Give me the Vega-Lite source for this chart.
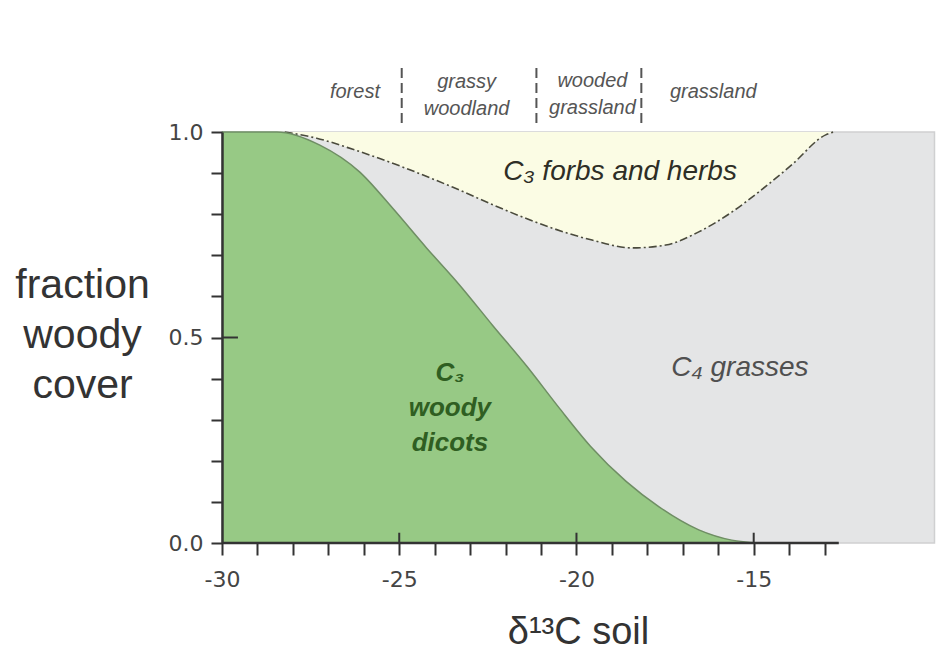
{
  "$schema": "https://vega.github.io/schema/vega-lite/v6.json",
  "width": 721,
  "height": 411,
  "autosize": {"type": "none"},
  "padding": {"left": 222, "top": 132, "right": 0, "bottom": 113},
  "background": "white",
  "config": {"view": {"stroke": null}, "text": {"lineBreak": "\n"}},
  "datasets": {
    "green": [
      {"x": -30, "y": 1}, {"x": -28.45, "y": 1}, {"x": -27.24, "y": 0.968}, {"x": -26.12, "y": 0.903},
      {"x": -25.19, "y": 0.815}, {"x": -24.23, "y": 0.718}, {"x": -23.3, "y": 0.628}, {"x": -22.37, "y": 0.53},
      {"x": -21.4, "y": 0.43}, {"x": -20.5, "y": 0.33}, {"x": -19.6, "y": 0.235}, {"x": -18.6, "y": 0.15},
      {"x": -17.67, "y": 0.088}, {"x": -16.55, "y": 0.032}, {"x": -15.62, "y": 0.007}, {"x": -14.86, "y": 0}
    ],
    "yellow": [
      {"x": -28.23, "y": 1}, {"x": -27.33, "y": 0.985}, {"x": -26.31, "y": 0.958}, {"x": -24.91, "y": 0.915},
      {"x": -23.5, "y": 0.866}, {"x": -22.09, "y": 0.813}, {"x": -20.68, "y": 0.766}, {"x": -19.56, "y": 0.737},
      {"x": -18.43, "y": 0.718}, {"x": -17.48, "y": 0.725}, {"x": -16.55, "y": 0.757}, {"x": -15.62, "y": 0.805},
      {"x": -14.86, "y": 0.854}, {"x": -13.93, "y": 0.92}, {"x": -12.97, "y": 0.993}, {"x": -12.75, "y": 1}
    ]
  },
  "layer": [
    {
      "data": {"values": [{"x": -30, "x2": -9.9, "y": 0, "y2": 1}]},
      "mark": {"type": "rect", "fill": "#e4e5e6", "stroke": "#cfd0d1", "strokeWidth": 1.5},
      "encoding": {
        "x": {
          "field": "x", "type": "quantitative",
          "scale": {"domain": [-30, -9.66], "nice": false, "zero": false},
          "axis": {
            "values": [-30, -29, -28, -27, -26, -25, -24, -23, -22, -21, -20, -19, -18, -17, -16, -15, -14, -13],
            "labelExpr": "datum.value % 5 === 0 ? '' + datum.value : ''",
            "domain": false, "grid": false, "zindex": 1,
            "tickSize": 12, "tickWidth": 2, "tickColor": "#333",
            "labelFont": "DejaVu Sans", "labelFontSize": 22, "labelColor": "#444", "labelPadding": 14,
            "labelFlush": false, "labelOverlap": false,
            "title": "δ¹³C soil", "titleFont": "Liberation Sans", "titleFontSize": 38,
            "titleFontWeight": "normal", "titleColor": "#333",
            "titleX": 356, "titleY": 89, "titleAlign": "center", "titleBaseline": "middle"
          }
        },
        "x2": {"field": "x2"},
        "y": {
          "field": "y", "type": "quantitative",
          "scale": {"domain": [0, 1], "nice": false},
          "axis": {
            "values": [0, 0.1, 0.2, 0.3, 0.4, 0.5, 0.6, 0.7, 0.8, 0.9, 1],
            "labelExpr": "datum.value == 0 ? '0.0' : (datum.value == 0.5 ? '0.5' : (datum.value == 1 ? '1.0' : ''))",
            "domain": true, "domainColor": "#333", "domainWidth": 2.5, "grid": false, "zindex": 1,
            "tickSize": 11, "tickWidth": 2, "tickColor": "#333",
            "labelFont": "DejaVu Sans", "labelFontSize": 22, "labelColor": "#444", "labelPadding": 8,
            "labelFlush": false, "labelOverlap": false,
            "title": ["fraction", "woody", "cover"], "titleFont": "Liberation Sans", "titleFontSize": 41,
            "titleFontWeight": "normal", "titleColor": "#333", "titleAngle": 0, "titleLineHeight": 50,
            "titleX": -140, "titleY": 153, "titleAlign": "center", "titleBaseline": "middle"
          }
        },
        "y2": {"field": "y2"}
      }
    },
    {
      "data": {"name": "yellow"},
      "mark": {"type": "area", "fill": "#fbfce4", "interpolate": "monotone"},
      "encoding": {
        "x": {"field": "x", "type": "quantitative"},
        "y": {"field": "y", "type": "quantitative"},
        "y2": {"datum": 1}
      }
    },
    {
      "data": {"name": "yellow"},
      "mark": {"type": "line", "stroke": "#4a4a3c", "strokeWidth": 1.6, "strokeDash": [8, 3, 2, 3], "interpolate": "monotone"},
      "encoding": {
        "x": {"field": "x", "type": "quantitative"},
        "y": {"field": "y", "type": "quantitative"}
      }
    },
    {
      "data": {"name": "green"},
      "mark": {"type": "area", "fill": "#97c985", "interpolate": "monotone"},
      "encoding": {
        "x": {"field": "x", "type": "quantitative"},
        "y": {"field": "y", "type": "quantitative"},
        "y2": {"datum": 0}
      }
    },
    {
      "data": {"name": "green"},
      "mark": {"type": "line", "stroke": "#6f8e64", "strokeWidth": 1.5, "interpolate": "monotone"},
      "encoding": {
        "x": {"field": "x", "type": "quantitative"},
        "y": {"field": "y", "type": "quantitative"}
      }
    },
    {
      "data": {"values": [{"x": -30, "x2": -12.6, "y": 0}]},
      "mark": {"type": "rule", "stroke": "#333", "strokeWidth": 2.5},
      "encoding": {
        "x": {"field": "x", "type": "quantitative"},
        "x2": {"field": "x2"},
        "y": {"field": "y", "type": "quantitative"}
      }
    },
    {
      "data": {"values": [{"x": -25}, {"x": -20}, {"x": -15}]},
      "mark": {"type": "rule", "stroke": "#333", "strokeWidth": 2},
      "encoding": {
        "x": {"field": "x", "type": "quantitative"},
        "y": {"datum": 0},
        "y2": {"datum": 0.025}
      }
    },
    {
      "data": {"values": [{"x": -30, "x2": -29.55, "y": 0.5}]},
      "mark": {"type": "rule", "stroke": "#333", "strokeWidth": 2},
      "encoding": {
        "x": {"field": "x", "type": "quantitative"},
        "x2": {"field": "x2"},
        "y": {"field": "y", "type": "quantitative"}
      }
    },
    {
      "data": {"values": [{"x": -24.93}, {"x": -21.13}, {"x": -18.17}]},
      "mark": {"type": "rule", "stroke": "#555", "strokeWidth": 2, "strokeDash": [10, 5]},
      "encoding": {
        "x": {"field": "x", "type": "quantitative"},
        "y": {"datum": 1.022},
        "y2": {"datum": 1.168}
      }
    },
    {
      "data": {"values": [
        {"x": -26.25, "y": 1.097, "label": "forest"},
        {"x": -23.1, "y": 1.122, "label": "grassy\nwoodland"},
        {"x": -19.55, "y": 1.124, "label": "wooded\ngrassland"},
        {"x": -16.14, "y": 1.097, "label": "grassland"}
      ]},
      "mark": {"type": "text", "font": "Liberation Sans", "fontSize": 20, "fontStyle": "italic", "color": "#555", "align": "center", "baseline": "middle", "lineHeight": 27},
      "encoding": {
        "x": {"field": "x", "type": "quantitative"},
        "y": {"field": "y", "type": "quantitative"},
        "text": {"field": "label"}
      }
    },
    {
      "data": {"values": [{"x": -18.77, "y": 0.903, "label": "C₃ forbs and herbs"}]},
      "mark": {"type": "text", "font": "Liberation Sans", "fontSize": 28, "fontStyle": "italic", "color": "#2e2e26", "align": "center", "baseline": "middle"},
      "encoding": {
        "x": {"field": "x", "type": "quantitative"},
        "y": {"field": "y", "type": "quantitative"},
        "text": {"field": "label"}
      }
    },
    {
      "data": {"values": [{"x": -15.39, "y": 0.426, "label": "C₄ grasses"}]},
      "mark": {"type": "text", "font": "Liberation Sans", "fontSize": 28, "fontStyle": "italic", "color": "#505050", "align": "center", "baseline": "middle"},
      "encoding": {
        "x": {"field": "x", "type": "quantitative"},
        "y": {"field": "y", "type": "quantitative"},
        "text": {"field": "label"}
      }
    },
    {
      "data": {"values": [{"x": -23.57, "y": 0.4136, "label": "C₃\nwoody\ndicots"}]},
      "mark": {"type": "text", "font": "Liberation Sans", "fontSize": 26, "fontStyle": "italic", "fontWeight": "bold", "color": "#2f5e22", "align": "center", "baseline": "middle", "lineHeight": 35},
      "encoding": {
        "x": {"field": "x", "type": "quantitative"},
        "y": {"field": "y", "type": "quantitative"},
        "text": {"field": "label"}
      }
    }
  ]
}
